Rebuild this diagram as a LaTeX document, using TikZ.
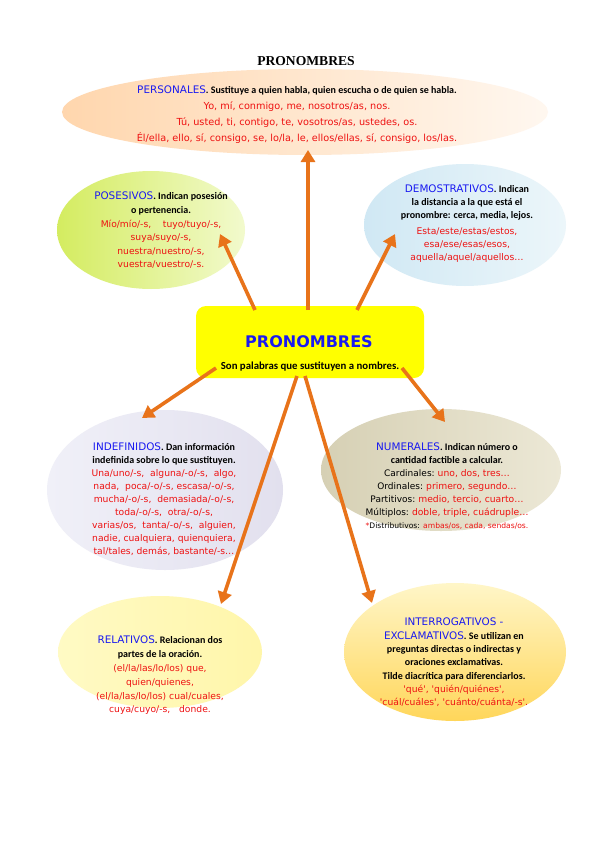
\documentclass[tikz,border=0pt]{standalone}
\usepackage{fontspec}
\setmainfont{Carlito}
\newfontfamily\titlefont{Liberation Serif}
\newfontfamily\comicf{DejaVu Sans}
\usetikzlibrary{shapes.geometric,arrows.meta}
\definecolor{arr}{HTML}{E8731A}
\definecolor{hblue}{HTML}{1A1AF0}
\definecolor{tred}{HTML}{EE1111}
\newcommand{\hd}[1]{{\comicf\fontsize{10.4}{12}\selectfont\color{hblue}#1}}
\newcommand{\rd}[1]{{\comicf\fontsize{9.2}{11}\selectfont\color{tred}#1}}
\newcommand{\rdp}[1]{{\comicf\fontsize{9.7}{11}\selectfont\color{tred}#1}}
\newcommand{\bl}[1]{{\comicf\fontsize{9}{11}\selectfont\color{black}#1}}
\newcommand{\bk}[1]{{\bfseries #1}}
\tikzset{
  bub/.style={ellipse, inner sep=0pt, draw=none},
  txt/.style={align=center, inner sep=0pt, text=black},
  con/.style={draw=arr, line width=3.6pt, -{Triangle[length=12pt,width=14pt]}},
}
\begin{document}
\begin{tikzpicture}[x=1pt,y=-1pt]
\useasboundingbox (0,0) rectangle (600,848);
\fill[white] (0,0) rectangle (600,848);
\node[font=\titlefont\bfseries\fontsize{13.6}{15}\selectfont] (title) at (306,61) {PRONOMBRES};
% bubbles
\node[bub, minimum width=486pt, minimum height=86pt, left color=orange!32!white, right color=orange!6!white] (pers) at (305,112) {};
\node[bub, minimum width=188pt, minimum height=118pt, left color={rgb,255:red,212;green,236;blue,96}, right color={rgb,255:red,242;green,250;blue,205}] (pos) at (151,230) {};
\node[bub, minimum width=202pt, minimum height=122pt, left color={rgb,255:red,208;green,232;blue,244}, right color={rgb,255:red,236;green,246;blue,250}] (dem) at (465,225) {};
\node[bub, minimum width=236pt, minimum height=160pt, left color={rgb,255:red,240;green,240;blue,248}, right color={rgb,255:red,226;green,224;blue,238}] (ind) at (165,490) {};
\node[bub, minimum width=240pt, minimum height=122pt, left color={rgb,255:red,214;green,208;blue,180}, right color={rgb,255:red,236;green,232;blue,214}] (num) at (441,470) {};
\node[bub, minimum width=204pt, minimum height=112pt, left color={rgb,255:red,255;green,250;blue,196}, right color={rgb,255:red,255;green,246;blue,170}] (rel) at (160,652) {};
\node[bub, minimum width=222pt, minimum height=138pt, shading angle=135, top color={rgb,255:red,255;green,246;blue,200}, bottom color={rgb,255:red,255;green,214;blue,90}] (int) at (455,652) {};
% central box
\node[draw=none, fill={rgb,255:red,255;green,255;blue,0}, rounded corners=10pt, minimum width=228pt, minimum height=72pt, inner sep=0pt] (box) at (310,342) {};
\node[inner sep=0pt, font=\comicf\bfseries\fontsize{16}{18}\selectfont, text=hblue] (boxt) at (309,342) {PRONOMBRES};
\node[inner sep=0pt, font=\bfseries\fontsize{10.8}{12}\selectfont] (boxs) at (310,367) {Son palabras que sustituyen a nombres.};
% connectors
\coordinate (s1) at (308,310); \coordinate (t1) at (308,150);
\coordinate (s2) at (255,310); \coordinate (t2) at (220,234);
\coordinate (s3) at (357,310); \coordinate (t3) at (395,234);
\coordinate (s4) at (216,368); \coordinate (t4) at (142,418);
\coordinate (s5) at (402,368); \coordinate (t5) at (445,422);
\coordinate (s6) at (297,376); \coordinate (t6) at (221,604);
\coordinate (s7) at (305,376); \coordinate (t7) at (372,603);
\draw[con] (s1) -- (t1);
\draw[con] (s2) -- (t2);
\draw[con] (s3) -- (t3);
\draw[con] (s4) -- (t4);
\draw[con] (s5) -- (t5);
\draw[con] (s6) -- (t6);
\draw[con] (s7) -- (t7);
% texts
\node[txt, anchor=north, font=\fontsize{10}{15.7}\selectfont] (perst) at (297,86) {\hd{PERSONALES}\bk{. Sustituye a quien habla, quien escucha o de quien se habla.}\\
\rdp{Yo, mí, conmigo, me, nosotros/as, nos.}\\
\rdp{Tú, usted, ti, contigo, te, vosotros/as, ustedes, os.}\\
\rdp{Él/ella, ello, sí, consigo, se, lo/la, le, ellos/ellas, sí, consigo, los/las.}};
\node[txt, anchor=north, font=\fontsize{10}{13.6}\selectfont] (post) at (161,192) {\hd{POSESIVOS}\bk{. Indican posesión}\\
\bk{o pertenencia.}\\
\rd{Mío/mío/-s, \ \ \ tuyo/tuyo/-s,}\\
\rd{suya/suyo/-s,}\\
\rd{nuestra/nuestro/-s,}\\
\rd{vuestra/vuestro/-s.}};
\node[txt, anchor=north, font=\fontsize{10}{13}\selectfont] (demt) at (467,185) {\hd{DEMOSTRATIVOS}\bk{. Indican}\\
\bk{la distancia a la que está el}\\
\bk{pronombre: cerca, media, lejos.}\\[3pt]
\rd{Esta/este/estas/estos,}\\
\rd{esa/ese/esas/esos,}\\
\rd{aquella/aquel/aquellos…}};
\node[txt, anchor=north, font=\fontsize{10}{12.9}\selectfont] (indt) at (164,443) {\hd{INDEFINIDOS}\bk{. Dan información}\\
\bk{indefinida sobre lo que sustituyen.}\\
\rd{Una/uno/-s, \ alguna/-o/-s, \ algo,}\\
\rd{nada, \ poca/-o/-s, escasa/-o/-s,}\\
\rd{mucha/-o/-s, \ demasiada/-o/-s,}\\
\rd{toda/-o/-s, \ otra/-o/-s,}\\
\rd{varias/os, \ tanta/-o/-s, \ alguien,}\\
\rd{nadie, cualquiera, quienquiera,}\\
\rd{tal/tales, demás, bastante/-s…}};
\node[txt, anchor=north, font=\fontsize{10}{12.9}\selectfont] (numt) at (447,443) {\hd{NUMERALES}\bk{. Indican número o}\\
\bk{cantidad factible a calcular.}\\
\bl{Cardinales:} \rd{uno, dos, tres…}\\
\bl{Ordinales:} \rd{primero, segundo…}\\
\bl{Partitivos:} \rd{medio, tercio, cuarto…}\\
\bl{Múltiplos:} \rd{doble, triple, cuádruple…}\\
{\comicf\fontsize{7.6}{9}\selectfont\color{tred}*\color{black}Distributivos: \color{tred}ambas/os, cada, sendas/os.}};
\node[txt, anchor=north, font=\fontsize{10}{13.8}\selectfont] (relt) at (160,636) {\hd{RELATIVOS}\bk{. Relacionan dos}\\
\bk{partes de la oración.}\\
\rd{(el/la/las/lo/los) que,}\\
\rd{quien/quienes,}\\
\rd{(el/la/las/lo/los) cual/cuales,}\\
\rd{cuya/cuyo/-s, \ \ donde.}};
\node[txt, anchor=north, font=\fontsize{10}{13.3}\selectfont] (intt) at (454,618) {\hd{INTERROGATIVOS -}\\
\hd{EXCLAMATIVOS}\bk{. Se utilizan en}\\
\bk{preguntas directas o indirectas y}\\
\bk{oraciones exclamativas.}\\
\bk{Tilde diacrítica para diferenciarlos.}\\
\rd{'qué', 'quién/quiénes',}\\
\rd{'cuál/cuáles', 'cuánto/cuánta/-s'.}};
\end{tikzpicture}
\end{document}
